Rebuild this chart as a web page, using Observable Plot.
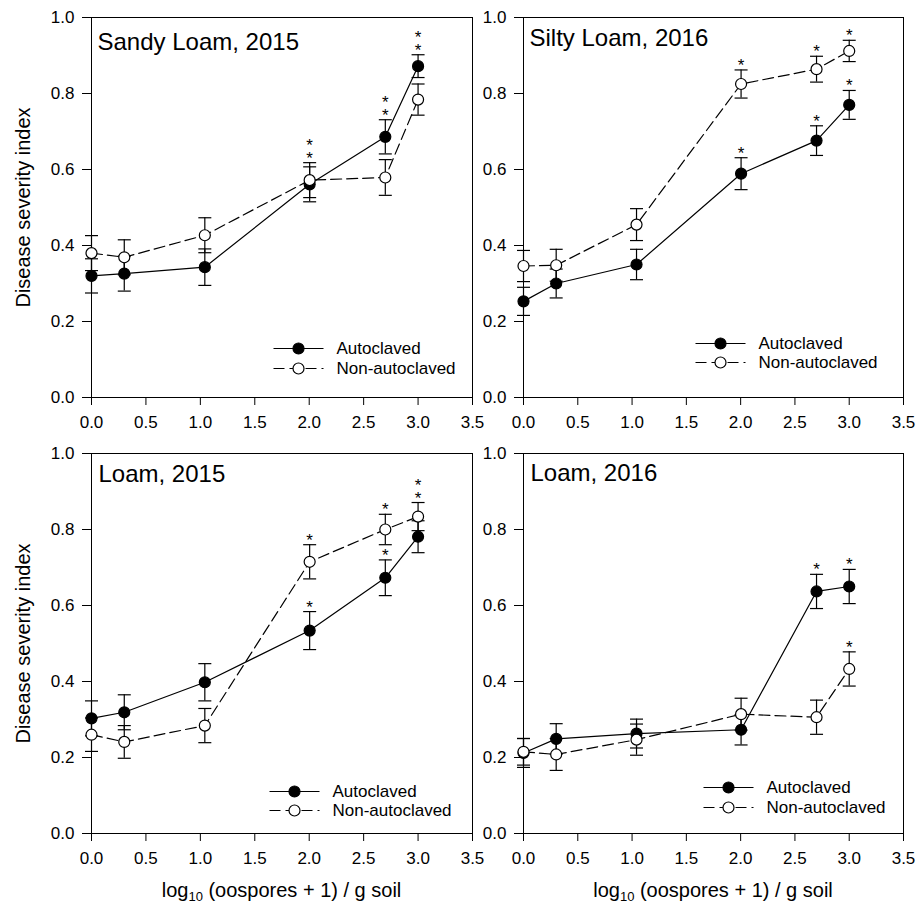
<!DOCTYPE html>
<html><head><meta charset="utf-8">
<script src="https://cdn.jsdelivr.net/npm/d3@7"></script>
<script src="https://cdn.jsdelivr.net/npm/@observablehq/plot@0.6"></script>
<style>
body{margin:0;background:#fff;font-family:"Liberation Sans",Arial,sans-serif;}
#fig{position:relative;width:919px;height:910px;background:#fff;}
.panel{position:absolute;}
.xtitle{position:absolute;top:879px;font-size:20px;line-height:23px;transform:translateX(-50%);white-space:nowrap;color:#000;}
.xtitle sub{font-size:13px;vertical-align:-4px;line-height:0;}
</style></head><body><div id="fig"></div>
<script>
// ---- data ----
const xPositions = [0, 0.301, 1.041, 2.004, 2.699, 3.0];
const xTicks = [0, 0.5, 1.0, 1.5, 2.0, 2.5, 3.0, 3.5];
const yTicks = [0, 0.2, 0.4, 0.6, 0.8, 1.0];
const seriesNames = ["Autoclaved", "Non-autoclaved"];
const panelTitles = ["Sandy Loam, 2015", "Silty Loam, 2016", "Loam, 2015", "Loam, 2016"];
const yTitle = "Disease severity index";

const sl15Auto   = [0.320, 0.326, 0.343, 0.561, 0.686, 0.872];
const sl15AutoSE = [0.045, 0.046, 0.048, 0.046, 0.045, 0.030];
const sl15AutoSig= [0, 0, 0, 1, 1, 1];
const sl15Non    = [0.380, 0.369, 0.427, 0.572, 0.579, 0.784];
const sl15NonSE  = [0.046, 0.046, 0.046, 0.046, 0.047, 0.041];
const sl15NonSig = [0, 0, 0, 1, 1, 1];

const sil16Auto   = [0.253, 0.300, 0.350, 0.589, 0.676, 0.770];
const sil16AutoSE = [0.037, 0.038, 0.040, 0.042, 0.039, 0.038];
const sil16AutoSig= [0, 0, 0, 1, 1, 1];
const sil16Non    = [0.346, 0.348, 0.455, 0.825, 0.864, 0.912];
const sil16NonSE  = [0.041, 0.042, 0.042, 0.037, 0.034, 0.028];
const sil16NonSig = [0, 0, 0, 1, 1, 1];

const l15Auto   = [0.303, 0.319, 0.398, 0.534, 0.673, 0.781];
const l15AutoSE = [0.046, 0.046, 0.049, 0.050, 0.047, 0.042];
const l15AutoSig= [0, 0, 0, 1, 1, 1];
const l15Non    = [0.260, 0.241, 0.284, 0.715, 0.800, 0.834];
const l15NonSE  = [0.044, 0.043, 0.045, 0.045, 0.040, 0.037];
const l15NonSig = [0, 0, 0, 1, 1, 1];

const l16Auto   = [0.212, 0.249, 0.263, 0.273, 0.637, 0.650];
const l16AutoSE = [0.038, 0.040, 0.038, 0.040, 0.045, 0.045];
const l16AutoSig= [0, 0, 0, 0, 1, 1];
const l16Non    = [0.215, 0.208, 0.247, 0.314, 0.306, 0.433];
const l16NonSE  = [0.035, 0.042, 0.041, 0.042, 0.045, 0.045];
const l16NonSig = [0, 0, 0, 0, 0, 1];

const panelData = [
  [[sl15Auto, sl15AutoSE, sl15AutoSig], [sl15Non, sl15NonSE, sl15NonSig]],
  [[sil16Auto, sil16AutoSE, sil16AutoSig], [sil16Non, sil16NonSE, sil16NonSig]],
  [[l15Auto, l15AutoSE, l15AutoSig], [l15Non, l15NonSE, l15NonSig]],
  [[l16Auto, l16AutoSE, l16AutoSig], [l16Non, l16NonSE, l16NonSig]]
];

// ---- layout (pixels) ----
const layout = [
  {left: 0,   top: 0,   mL: 91, mR: 12, tDx: 6, tDy: 15, legDx: -174, legDy: [-49, -29], yTitle: true},
  {left: 473, top: 0,   mL: 50, mR: 16, tDx: 6, tDy: 11, legDx: -183, legDy: [-54, -35], yTitle: false},
  {left: 0,   top: 436, mL: 91, mR: 12, tDx: 7, tDy: 11, legDx: -178, legDy: [-42, -23], yTitle: true},
  {left: 473, top: 436, mL: 50, mR: 16, tDx: 7, tDy: 10, legDx: -175, legDy: [-46, -26], yTitle: false}
];
const FONT = '"Liberation Sans", Arial, sans-serif';
const DASH = "11,5";

const hline = (half) => ({draw(ctx) { ctx.moveTo(-half, 0); ctx.lineTo(half, 0); }});

function buildRows(p) {
  const rows = [];
  panelData[p].forEach(([m, se, sig], s) => {
    xPositions.forEach((x, i) => rows.push({i, x, mean: m[i], se: se[i], sig: sig[i], series: seriesNames[s]}));
  });
  return rows;
}

// significance asterisks: above own error bar, or stacked above the upper bar when crowded
function starsFor(rows) {
  const out = [];
  xPositions.forEach((x, i) => {
    const a = rows.find(r => r.i === i && r.series === seriesNames[0]);
    const b = rows.find(r => r.i === i && r.series === seriesNames[1]);
    const sig = [a, b].filter(r => r.sig);
    if (!sig.length) return;
    const [low, high] = (a.mean + a.se) <= (b.mean + b.se) ? [a, b] : [b, a];
    const crowded = (high.mean - high.se) - (low.mean + low.se) < 0.03;
    if (sig.length === 2 && crowded) {
      out.push({x, y: high.mean + high.se, n: 2});
    } else {
      sig.forEach(r => out.push({x, y: r.mean + r.se, n: 1}));
    }
  });
  return out;
}

const fig = document.getElementById("fig");

panelTitles.forEach((title, p) => {
  const L = layout[p];
  const rows = buildRows(p);
  const stars = starsFor(rows);
  const marks = [
    Plot.axisX({ticks: xTicks, tickFormat: d3.format(".1f"), tickSize: 8, tickPadding: 10, label: null, fontSize: 17}),
    Plot.axisY({ticks: yTicks, tickFormat: d3.format(".1f"), tickSize: 9, tickPadding: 8, label: null, fontSize: 17}),
    Plot.frame({stroke: "black", strokeWidth: 1})
  ];
  seriesNames.forEach((name, s) => {
    const data = rows.filter(r => r.series === name);
    const dash = s === 1 ? DASH : undefined;
    const fill = s === 0 ? "black" : "white";
    marks.push(
      Plot.line(data, {x: "x", y: "mean", stroke: "black", strokeWidth: 1.2, strokeDasharray: dash}),
      Plot.ruleX(data, {x: "x", y1: d => d.mean - d.se, y2: d => d.mean + d.se, stroke: "black", strokeWidth: 1.2}),
      Plot.dot(data, {x: "x", y: d => d.mean - d.se, symbol: hline(6.5), r: 3, fill: "none", stroke: "black", strokeWidth: 1.2}),
      Plot.dot(data, {x: "x", y: d => d.mean + d.se, symbol: hline(6.5), r: 3, fill: "none", stroke: "black", strokeWidth: 1.2}),
      Plot.dot(data, {x: "x", y: "mean", r: 5.5, fill, stroke: "black", strokeWidth: 1.2})
    );
    // legend entry
    marks.push(
      Plot.dot([name], {frameAnchor: "bottom-right", dx: L.legDx, dy: L.legDy[s], symbol: hline(25), r: 5, fill: "none", stroke: "black", strokeWidth: 1.2, strokeDasharray: dash}),
      Plot.dot([name], {frameAnchor: "bottom-right", dx: L.legDx, dy: L.legDy[s], r: 5.5, fill, stroke: "black", strokeWidth: 1.2}),
      Plot.text([name], {frameAnchor: "bottom-right", dx: L.legDx + 38, dy: L.legDy[s], text: d => d, textAnchor: "start", lineAnchor: "middle", fontSize: 17, fill: "black"})
    );
  });
  marks.push(
    Plot.text(stars, {x: "x", y: "y", text: d => Array(d.n).fill("*").join("\n"), dy: 1, lineAnchor: "bottom", lineHeight: 0.73, fontSize: 17, fill: "black"}),
    Plot.text([title], {frameAnchor: "top-left", dx: L.tDx, dy: L.tDy, text: d => d, textAnchor: "start", lineAnchor: "top", fontSize: 24, fill: "black"})
  );
  if (L.yTitle) {
    marks.push(Plot.text([yTitle], {frameAnchor: "left", dx: -68, text: d => d, rotate: -90, textAnchor: "middle", lineAnchor: "middle", fontSize: 20, fill: "black"}));
  }
  const chart = Plot.plot({
    width: L.mL + 381 + L.mR - (p % 2 === 1 ? 1 : 0),
    height: 17 + 380 + 40,
    marginLeft: L.mL, marginRight: L.mR, marginTop: 17, marginBottom: 40,
    x: {domain: [0, 3.5]},
    y: {domain: [0, 1]},
    style: {fontFamily: FONT, fontSize: "17px", background: "transparent", color: "black", overflow: "visible"},
    marks
  });
  const wrap = document.createElement("div");
  wrap.className = "panel";
  wrap.style.left = L.left + "px";
  wrap.style.top = L.top + "px";
  wrap.appendChild(chart);
  fig.appendChild(wrap);
});

// x-axis titles under the bottom panels
[91 + 381 / 2, 523 + 380 / 2].forEach((cx) => {
  const d = document.createElement("div");
  d.className = "xtitle";
  d.style.left = cx + "px";
  d.innerHTML = "log<sub>10</sub> (oospores + 1) / g soil";
  fig.appendChild(d);
});
</script></body></html>
